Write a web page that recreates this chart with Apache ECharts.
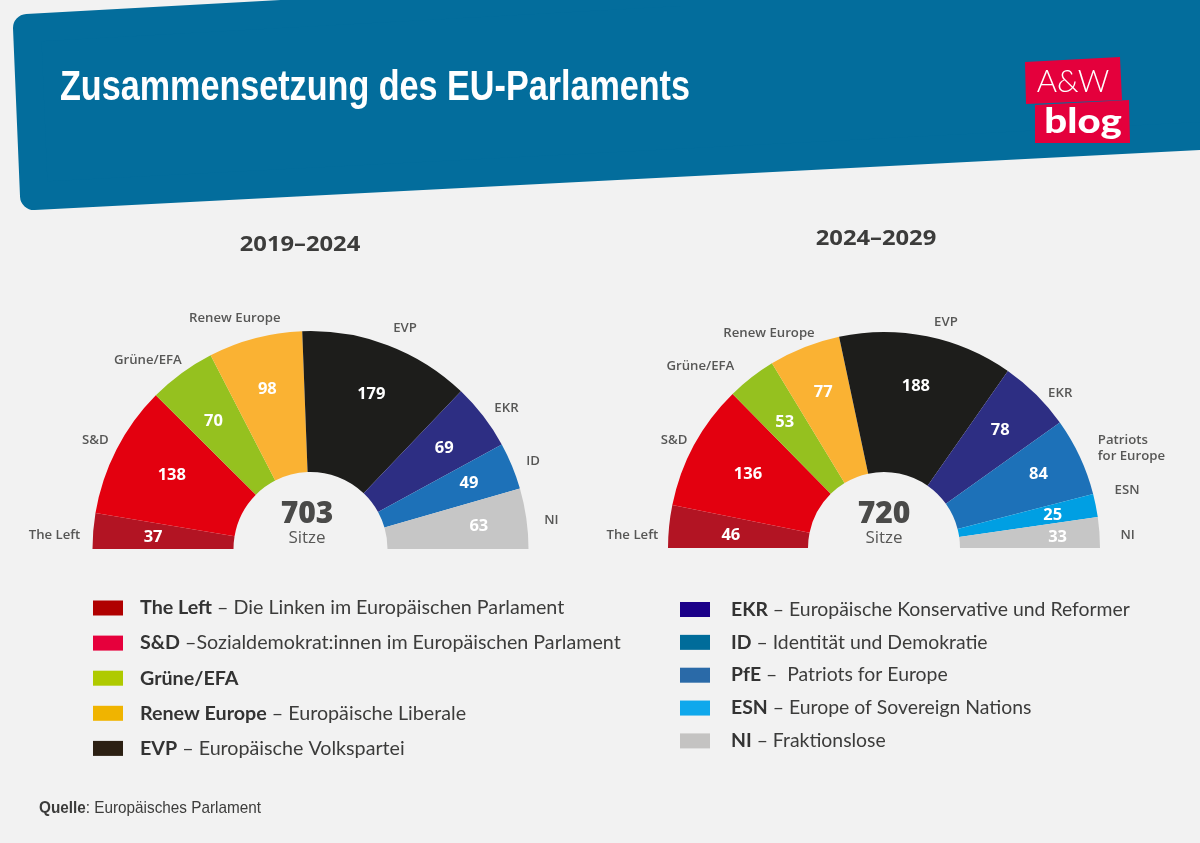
<!DOCTYPE html>
<html>
<head>
<meta charset="utf-8">
<style>
  html, body { margin: 0; padding: 0; background: #f2f2f2; }
  #main { width: 1200px; height: 843px; }
</style>
<script src="https://cdn.jsdelivr.net/npm/echarts@6/dist/echarts.min.js"></script>
</head>
<body>
<div id="main"></div>
<script>
// Sitze pro Fraktion
var names2019 = ['The Left', 'S&D', 'Grüne/EFA', 'Renew Europe', 'EVP', 'EKR', 'ID', 'NI'];
var seats2019 = [37, 138, 70, 98, 179, 69, 49, 63];
var names2024 = ['The Left', 'S&D', 'Grüne/EFA', 'Renew Europe', 'EVP', 'EKR', 'PfE', 'ESN', 'NI'];
var seats2024 = [46, 136, 53, 77, 188, 78, 84, 25, 33];

// Legende: Kürzel und Langtext
var legendLeftNames = ['The Left', 'S&D', 'Grüne/EFA', 'Renew Europe', 'EVP'];
var legendLeftTexts = [' – Die Linken im Europäischen Parlament', ' –Sozialdemokrat:innen im Europäischen Parlament', '', ' – Europäische Liberale', ' – Europäische Volkspartei'];
var legendRightNames = ['EKR', 'ID', 'PfE', 'ESN', 'NI'];
var legendRightTexts = [' – Europäische Konservative und Reformer', ' – Identität und Demokratie', ' –  Patriots for Europe', ' – Europe of Sovereign Nations', ' – Fraktionslose'];

// Farben
var sliceColors = {
  'The Left': '#b21423', 'S&D': '#e3000f', 'Grüne/EFA': '#95c11f', 'Renew Europe': '#fab233', 'EVP': '#1d1d1b',
  'EKR': '#2d2e83', 'ID': '#1d71b8', 'PfE': '#1d71b8', 'ESN': '#009fe3', 'NI': '#c6c6c6'
};
var legendColors = {
  'The Left': '#b00000', 'S&D': '#e6003c', 'Grüne/EFA': '#afca00', 'Renew Europe': '#f0b400', 'EVP': '#2c2013',
  'EKR': '#1b0088', 'ID': '#006c9a', 'PfE': '#2a6aa8', 'ESN': '#0fa8ec', 'NI': '#c4c3c2'
};

// Beschriftungen sind im Original von Hand gesetzt, daher kleine Verschiebungen
var nameNudge2019 = [[2, 5], [6, -5], [11, -5], [33, -10], [-3, -8], [-2, -2], [0, -1], [3, 3]];
var valueNudge2019 = [[8, 2], [9, 2], [1, 6], [-1, 1], [2, 1], [2, 0], [5, -2], [4, 1]];
var nameNudge2024 = [[4, 10], [7, 0], [-6, -3], [19, -5], [0, -4], [0, 6], [4, -4], [4, -13], [6, 3]];
var valueNudge2024 = [[11, 4], [9, 5], [2, 5], [0, -2], [-1, 0], [0, -1], [5, -4], [7, 0], [9, 1]];

var chart = echarts.init(document.getElementById('main'));

function sum(arr) {
  return arr.reduce(function (a, b) { return a + b; }, 0);
}

function nameLabel(name) {
  return name === 'PfE' ? 'Patriots\nfor Europe' : name;
}

// Halbkreis mit Fraktionsnamen aussen
function makeHalf(names, seats, center, radius, nudge) {
  return {
    type: 'pie',
    center: center,
    radius: radius,
    startAngle: 180,
    endAngle: 0,
    animation: false,
    silent: true,
    avoidLabelOverlap: false,
    minShowLabelAngle: 0,
    data: names.map(function (n, i) {
      return { name: n, value: seats[i], itemStyle: { color: sliceColors[n] } };
    }),
    label: {
      show: true,
      position: 'outside',
      distanceToLabelLine: 5,
      fontFamily: 'Open Sans',
      fontSize: 13.2,
      fontWeight: 600,
      lineHeight: 16,
      color: '#575756',
      formatter: function (p) { return nameLabel(p.name); }
    },
    labelLine: { show: false, length: 10, length2: 0 },
    labelLayout: function (p) {
      return { dx: nudge[p.dataIndex][0], dy: nudge[p.dataIndex][1] };
    }
  };
}

// Unsichtbarer zweiter Ring nur fuer die Sitzzahlen
function makeValues(names, seats, center, radius, nudge) {
  return {
    type: 'pie',
    center: center,
    radius: radius,
    startAngle: 180,
    endAngle: 0,
    animation: false,
    silent: true,
    avoidLabelOverlap: false,
    minShowLabelAngle: 0,
    data: names.map(function (n, i) {
      return { name: n, value: seats[i], itemStyle: { color: 'rgba(0,0,0,0)' } };
    }),
    label: {
      show: true,
      position: 'inside',
      fontFamily: 'Open Sans',
      fontSize: 16.5,
      fontWeight: 700,
      color: '#fff',
      formatter: '{c}'
    },
    labelLine: { show: false },
    labelLayout: function (p) {
      return { dx: nudge[p.dataIndex][0], dy: nudge[p.dataIndex][1] };
    }
  };
}

function makeLegend(names, texts, left, top, gap, textPad, size) {
  return {
    orient: 'vertical',
    left: left,
    top: top,
    padding: 0,
    selectedMode: false,
    icon: 'rect',
    itemWidth: 30,
    itemHeight: 15,
    itemGap: gap,
    data: names.map(function (n) {
      return { name: n, itemStyle: { color: legendColors[n] } };
    }),
    formatter: function (n) {
      return '{b|' + n + '}{t|' + texts[names.indexOf(n)] + '}';
    },
    textStyle: {
      rich: {
        b: { fontFamily: 'Lato', fontSize: size, fontWeight: 700, color: '#333', padding: [0, 0, 0, textPad], height: 15 },
        t: { fontFamily: 'Lato', fontSize: size, color: '#3c3c3b', height: 15 }
      }
    }
  };
}

function plainText(text, x, y, font, size, weight, color, align, scaleX) {
  return {
    type: 'text',
    x: x,
    y: y,
    scaleX: scaleX || 1,
    silent: true,
    style: {
      text: text,
      fontFamily: font,
      fontSize: size,
      fontWeight: weight,
      fill: color,
      align: align || 'left',
      verticalAlign: 'middle'
    }
  };
}

var option = {
  backgroundColor: '#f2f2f2',
  legend: [
    makeLegend(legendLeftNames, legendLeftTexts, 93, 598, 15.1, 12, 19.7),
    makeLegend(legendRightNames, legendRightTexts, 680, 600, 13.85, 16, 19.4)
  ],
  series: [
    makeHalf(names2019, seats2019, [310.5, 549], [77, 218], nameNudge2019),
    makeValues(names2019, seats2019, [310.5, 549], [108, 218], valueNudge2019),
    makeHalf(names2024, seats2024, [884, 548], [76, 216], nameNudge2024),
    makeValues(names2024, seats2024, [884, 548], [108, 216], valueNudge2024)
  ],
  graphic: [
    // Kopfband: Polygon mit dicker runder Kontur ergibt die runden Ecken
    {
      type: 'polygon', silent: true, z: -1,
      shape: { points: [[27, 28], [680, -8], [1220, -8], [1220, 135], [34, 196]] },
      style: { fill: '#036d9c', stroke: '#036d9c', lineWidth: 28, lineJoin: 'round' }
    },
    plainText('Zusammensetzung des EU-Parlaments', 60, 88, 'Liberation Sans', 42, 700, '#fff', 'left', 0.813),
    // Logo
    {
      type: 'polygon', silent: true,
      shape: { points: [[1025, 62], [1120, 57], [1122, 100], [1026, 104]] },
      style: { fill: '#e4003c' }
    },
    {
      type: 'polygon', silent: true,
      shape: { points: [[1035, 105], [1129, 100], [1130, 143], [1035, 143]] },
      style: { fill: '#e4003c' }
    },
    plainText('A&W', 1073, 82, 'Lato', 31, 300, '#fff', 'center'),
    plainText('blog', 1083, 122, 'Lato', 34, 900, '#fff', 'center', 1.18),
    plainText('2019–2024', 300, 245, 'Open Sans', 22, 700, '#3c3c3b', 'center', 1.08),
    plainText('2024–2029', 876, 239, 'Open Sans', 22, 700, '#3c3c3b', 'center', 1.08),
    plainText(String(sum(seats2019)), 307, 514, 'Open Sans', 30, 800, '#4a4a49', 'center'),
    plainText('Sitze', 307, 538, 'Open Sans', 17, 400, '#575756', 'center'),
    plainText(String(sum(seats2024)), 884, 514, 'Open Sans', 30, 800, '#4a4a49', 'center'),
    plainText('Sitze', 884, 538, 'Open Sans', 17, 400, '#575756', 'center'),
    {
      type: 'text', x: 39, y: 808, scaleX: 0.9, silent: true,
      style: {
        text: '{b|Quelle}{t|: Europäisches Parlament}',
        verticalAlign: 'middle',
        rich: {
          b: { fontFamily: 'Liberation Sans', fontSize: 17, fontWeight: 700, fill: '#3c3c3b' },
          t: { fontFamily: 'Liberation Sans', fontSize: 17, fill: '#3c3c3b' }
        }
      }
    }
  ]
};

chart.setOption(option);
</script>
</body>
</html>
